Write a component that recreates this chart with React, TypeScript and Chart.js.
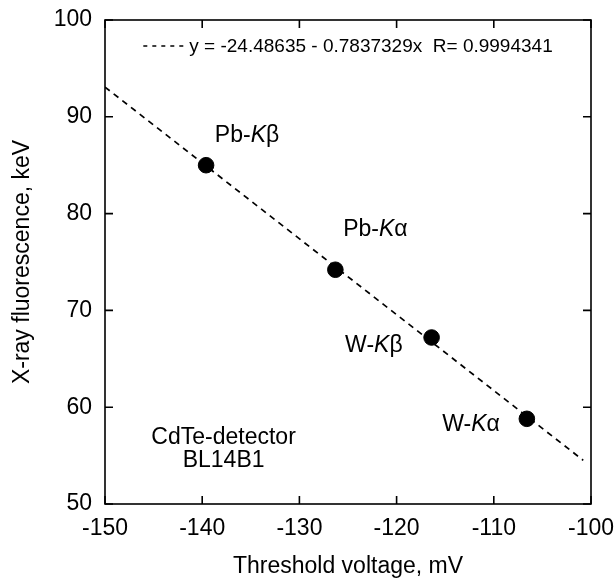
import React, { useEffect, useRef } from "react";
import { Chart, registerables } from "chart.js";

Chart.register(...registerables);

// ---- data ----
const voltages = [-139.6, -126.3, -116.4, -106.6];
const energies = [85.0, 74.2, 67.2, 58.8];
const lineElements = ["Pb", "Pb", "W", "W"];
const lineGreek = ["β", "α", "β", "α"];
const fitIntercept = -24.48635;
const fitSlope = -0.7837329;
const fitR = 0.9994341;
const fitRange = [-150, -100.8];
const xRange = [-150, -100];
const yRange = [50, 100];
const tickStep = 10;
const xTitle = "Threshold voltage, mV";
const yTitle = "X-ray fluorescence, keV";
const noteLines = ["CdTe-detector", "BL14B1"];
const legendText = `y = ${fitIntercept} - ${Math.abs(fitSlope)}x  R= ${fitR}`;

// label anchors in data coordinates (left, baseline)
const labelAnchors = [
  [-138.7, 87.4],
  [-125.5, 77.7],
  [-125.3, 65.7],
  [-115.3, 57.5],
];
const noteAnchor = [-137.8, 56.2, 53.8];

const FONT = "'Liberation Sans', Arial, Helvetica, sans-serif";

const decorPlugin = {
  id: "decor",
  afterDraw(chart: any) {
    const ctx = chart.ctx as CanvasRenderingContext2D;
    const { left, right, top, bottom } = chart.chartArea;
    const xs = chart.scales.x;
    const ys = chart.scales.y;
    ctx.save();
    ctx.strokeStyle = "#000";
    ctx.lineWidth = 1.6;
    ctx.setLineDash([]);
    ctx.strokeRect(left, top, right - left, bottom - top);
    const tl = 8;
    ctx.beginPath();
    xs.ticks.forEach((t: any) => {
      const px = xs.getPixelForValue(t.value);
      ctx.moveTo(px, bottom);
      ctx.lineTo(px, bottom - tl);
      ctx.moveTo(px, top);
      ctx.lineTo(px, top + tl);
    });
    ys.ticks.forEach((t: any) => {
      const py = ys.getPixelForValue(t.value);
      ctx.moveTo(left, py);
      ctx.lineTo(left + tl, py);
      ctx.moveTo(right, py);
      ctx.lineTo(right - tl, py);
    });
    ctx.stroke();

    // legend (inside plot, top)
    ctx.font = `19px ${FONT}`;
    ctx.fillStyle = "#000";
    ctx.textBaseline = "middle";
    ctx.textAlign = "left";
    const sampleW = 43;
    const gap = 3;
    const tw = ctx.measureText(legendText).width;
    const total = sampleW + gap + tw;
    const lx = (left + right) / 2 - total / 2;
    const ly = top + 26;
    ctx.beginPath();
    ctx.lineWidth = 1.5;
    ctx.setLineDash([4, 5]);
    ctx.moveTo(lx, ly);
    ctx.lineTo(lx + sampleW, ly);
    ctx.stroke();
    ctx.setLineDash([]);
    ctx.fillText(legendText, lx + sampleW + gap, ly + 1);

    // point labels
    ctx.textBaseline = "alphabetic";
    labelAnchors.forEach((a, i) => {
      let x = xs.getPixelForValue(a[0]);
      const y = ys.getPixelForValue(a[1]);
      const parts = [
        { t: lineElements[i] + "-", it: false },
        { t: "K", it: true },
        { t: lineGreek[i], it: false },
      ];
      parts.forEach((p) => {
        ctx.font = `${p.it ? "italic " : ""}23px ${FONT}`;
        ctx.fillText(p.t, x, y);
        x += ctx.measureText(p.t).width;
      });
    });

    // note
    ctx.font = `23px ${FONT}`;
    ctx.textAlign = "center";
    const nx = xs.getPixelForValue(noteAnchor[0]);
    ctx.fillText(noteLines[0], nx, ys.getPixelForValue(noteAnchor[1]));
    ctx.fillText(noteLines[1], nx, ys.getPixelForValue(noteAnchor[2]));
    ctx.restore();
  },
};

export default function App() {
  const ref = useRef<HTMLCanvasElement | null>(null);
  useEffect(() => {
    if (!ref.current) return;
    const points = voltages.map((v, i) => ({ x: v, y: energies[i] }));
    const fitPts = fitRange.map((x) => ({ x, y: fitIntercept + fitSlope * x }));
    const chart = new Chart(ref.current, {
      type: "scatter",
      data: {
        datasets: [
          {
            type: "line",
            label: "fit",
            data: fitPts,
            borderColor: "#000",
            borderWidth: 1.7,
            borderDash: [6, 5],
            pointRadius: 0,
            fill: false,
          } as any,
          {
            label: "data",
            data: points,
            backgroundColor: "#000",
            borderColor: "#000",
            pointRadius: 7.8,
            pointHoverRadius: 7.8,
          },
        ],
      },
      options: {
        animation: false,
        responsive: true,
        maintainAspectRatio: false,
        layout: { padding: { top: 20, right: 25, left: 0, bottom: 0 } },
        plugins: { legend: { display: false }, tooltip: { enabled: false } },
        scales: {
          x: {
            type: "linear",
            min: xRange[0],
            max: xRange[1],
            ticks: {
              stepSize: tickStep,
              color: "#000",
              font: { family: FONT, size: 23 },
              padding: 11,
            },
            grid: { display: false, drawTicks: false },
            border: { display: false },
            title: {
              display: true,
              text: xTitle,
              color: "#000",
              font: { family: FONT, size: 23 },
              padding: { top: 0, bottom: 2 },
            },
            afterFit: (s: any) => {
              s.height = 78;
              s.paddingLeft = 0;
              s.paddingRight = 0;
            },
          },
          y: {
            type: "linear",
            min: yRange[0],
            max: yRange[1],
            ticks: {
              stepSize: tickStep,
              color: "#000",
              font: { family: FONT, size: 23 },
              padding: 13,
            },
            grid: { display: false, drawTicks: false },
            border: { display: false },
            title: {
              display: true,
              text: yTitle,
              color: "#000",
              font: { family: FONT, size: 23 },
              padding: { top: 9, bottom: 0 },
            },
            afterFit: (s: any) => {
              s.width = 105;
              s.paddingTop = 0;
              s.paddingBottom = 0;
            },
          },
        },
      },
      plugins: [decorPlugin],
    });
    return () => chart.destroy();
  }, []);
  return (
    <div style={{ position: "absolute", left: 0, top: 0, width: 616, height: 582, background: "#fff" }}>
      <canvas ref={ref} style={{ display: "block" }} />
    </div>
  );
}
